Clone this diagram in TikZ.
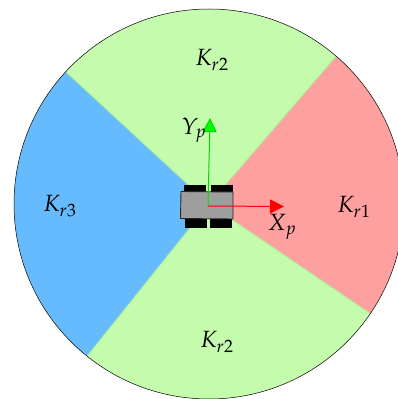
\documentclass[tikz,border=0pt]{standalone}
\usepackage{mathpazo}
\usetikzlibrary{arrows.meta}
\definecolor{secgreen}{RGB}{196,251,172}
\definecolor{secedge}{RGB}{170,240,150}
\definecolor{secred}{RGB}{255,160,160}
\definecolor{secblue}{RGB}{102,187,255}
\definecolor{bodygray}{RGB}{158,158,158}
\tikzset{
  wheel/.style={fill=black,draw=black,line width=0.3pt},
  axisx/.style={draw=red,line width=1pt,-{Triangle[length=14pt,width=14pt,fill=red]}},
  axisy/.style={draw=green!85!black,line width=1pt,-{Triangle[length=14pt,width=14pt,fill=green]}},
  lab/.style={inner sep=0pt,font=\fontsize{23.5}{26}\selectfont}
}
\begin{document}
\begin{tikzpicture}[x=1pt,y=1pt]
\useasboundingbox (0,0) rectangle (398,399);
\clip (0,0) rectangle (398,399);
\coordinate (c) at (209,195);
\def\rr{195}
\fill[secgreen] (c) -- ++(137.3:\rr) arc[start angle=137.3,end angle=49.3,radius=\rr] -- cycle;
\fill[secred] (c) -- ++(49.3:\rr) arc[start angle=49.3,end angle=-34.2,radius=\rr] -- cycle;
\fill[secgreen] (c) -- ++(-34.2:\rr) arc[start angle=-34.2,end angle=-128.7,radius=\rr] -- cycle;
\fill[secblue] (c) -- ++(-128.7:\rr) arc[start angle=-128.7,end angle=-222.7,radius=\rr] -- cycle;
\draw[secedge,line width=0.8pt] (c) -- ++(137.3:\rr);
\draw[secedge,line width=0.8pt] (c) -- ++(49.3:\rr);
\draw[secedge,line width=0.8pt] (c) -- ++(-34.2:\rr);
\draw[secedge,line width=0.8pt] (c) -- ++(-128.7:\rr);
\draw[black,line width=0.5pt] (c) circle[radius=\rr];
% wheels
\draw[wheel] (184,214) rectangle (205,207);
\draw[wheel] (211,214) rectangle (232,207);
\draw[wheel] (185,180) rectangle (206,172);
\draw[wheel] (210,180) rectangle (231,172);
% body
\draw[fill=bodygray,draw=black!85,line width=0.9pt] (181,207.5) -- (233,207) -- (233,180) -- (180.5,180.5) -- cycle;
% axes
\coordinate (o) at (208,193);
\coordinate (ytip) at (210,281);
\coordinate (xtip) at (284,192.5);
\draw[axisy] (o) -- (ytip);
\draw[axisx] (o) -- (xtip);
% labels
\node[lab] (ktop) at (212,339) {$K_{r2}$};
\node[lab] (kbot) at (217,57) {$K_{r2}$};
\node[lab] (kright) at (354,192) {$K_{r1}$};
\node[lab] (kleft) at (60,193) {$K_{r3}$};
\node[lab] (yp) at (194,269) {$Y_p$};
\node[lab] (xp) at (282,172) {$X_p$};
\end{tikzpicture}
\end{document}
